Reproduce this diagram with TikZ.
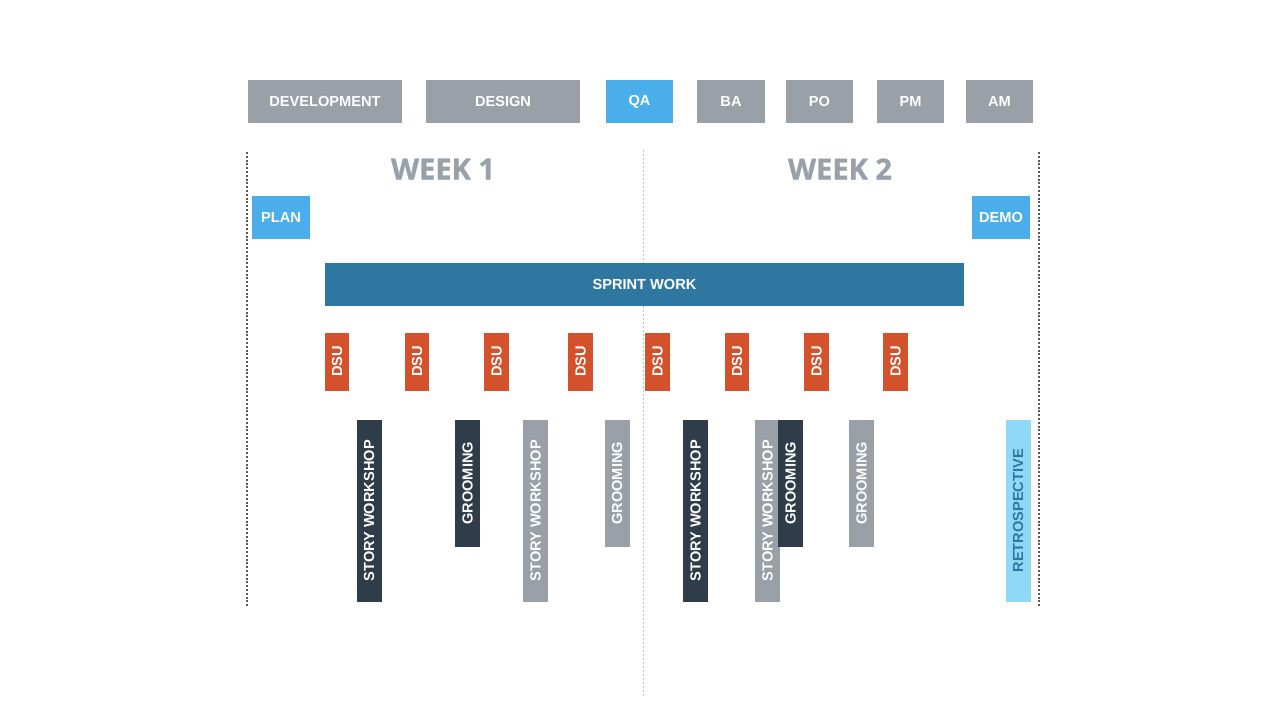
\documentclass[tikz,border=0pt]{standalone}
\usepackage{fontspec}
\setmainfont{Liberation Sans}
\newfontfamily\weekfont[BoldFeatures={FakeBold=1}]{Open Sans}
\usepackage{xcolor}
\usetikzlibrary{positioning}
\definecolor{rolegray}{HTML}{9AA0A8}
\definecolor{planblue}{HTML}{4AAEEA}
\definecolor{sprintblue}{HTML}{2E77A0}
\definecolor{dsured}{HTML}{D4522B}
\definecolor{slate}{HTML}{2F3D4A}
\definecolor{retroblue}{HTML}{8ED8F8}
\definecolor{weekgray}{HTML}{98A1AA}

\begin{document}
\begin{tikzpicture}[x=0.5pt, y=-0.5pt,
  box/.style={inner sep=0pt, font=\fontsize{7.3}{8.8}\selectfont\bfseries, text=white, align=center},
  role/.style={box, fill=rolegray, minimum height=21.5pt, minimum width=33.5pt},
  wide/.style={role, minimum width=77pt},
  ceremony/.style={box, fill=planblue, minimum height=21.5pt, minimum width=29pt},
  dsu/.style={box, fill=dsured, rotate=90, minimum width=29pt, minimum height=12.25pt},
  vbar/.style={box, rotate=90, minimum height=12.5pt},
  story/.style={vbar, minimum width=90.75pt},
  groom/.style={vbar, minimum width=63.25pt},
  week/.style={font=\weekfont\fontsize{14.5}{16}\selectfont\bfseries, text=weekgray},
  divider/.style={line width=1.1pt, dash pattern=on 1pt off 0.9pt, draw=black!65},
  midline/.style={line width=0.5pt, dash pattern=on 1pt off 1pt, draw=black!25}]

  \path[fill=white] (0,0) rectangle (1280,720);

  % roles
  \node[wide] (dev) at (325,101.5) {DEVELOPMENT};
  \node[wide] (design) at (503,101.5) {DESIGN};
  \node[role, fill=planblue] (qa) at (639.5,101.5) {QA};
  \node[role, minimum width=34pt] (ba) at (731,101.5) {BA};
  \node[role] (po) at (819.5,101.5) {PO};
  \node[role] (pm) at (910.5,101.5) {PM};
  \node[role] (am) at (999.5,101.5) {AM};

  % sprint boundaries
  \coordinate (startTop) at (247,152);
  \coordinate (startBot) at (247,606);
  \coordinate (endTop) at (1039,152);
  \coordinate (endBot) at (1039,606);
  \coordinate (midTop) at (643,150);
  \coordinate (midBot) at (643,698);
  \draw[divider] (startTop) -- (startBot);
  \draw[divider] (endTop) -- (endBot);
  \draw[midline] (midTop) -- (midBot);

  \node[week] (week1) at (443,169) {WEEK 1};
  \node[week] (week2) at (840,169) {WEEK 2};

  \node[ceremony] (plan) at (281,217.5) {PLAN};
  \node[ceremony] (demo) at (1001,217.5) {DEMO};

  \node[box, fill=sprintblue, minimum width=319.5pt, minimum height=21.5pt] (sprint) at (644.5,284.5) {SPRINT WORK};

  % daily stand-ups
  \foreach \x [count=\i] in {337,417,496.5,580.5,657.5,737,816.5,895.5}
    \node[dsu] (dsu\i) at (\x,361.5) {DSU};

  % refinement sessions
  \node[story, fill=slate] (story1) at (369,510.75) {STORY WORKSHOP};
  \node[groom, fill=slate] (groom1) at (467.5,483.25) {GROOMING};
  \node[story, fill=rolegray] (story2) at (535.5,510.75) {STORY WORKSHOP};
  \node[groom, fill=rolegray] (groom2) at (617,483.25) {GROOMING};
  \node[story, fill=slate] (story3) at (695.5,510.75) {STORY WORKSHOP};
  \node[story, fill=rolegray] (story4) at (767.5,510.75) {STORY WORKSHOP};
  \node[groom, fill=slate] (groom3) at (790.5,483.25) {GROOMING};
  \node[groom, fill=rolegray] (groom4) at (861.5,483.25) {GROOMING};

  \node[story, fill=retroblue, text=sprintblue] (retro) at (1018,510.75) {RETROSPECTIVE};
\end{tikzpicture}
\end{document}
